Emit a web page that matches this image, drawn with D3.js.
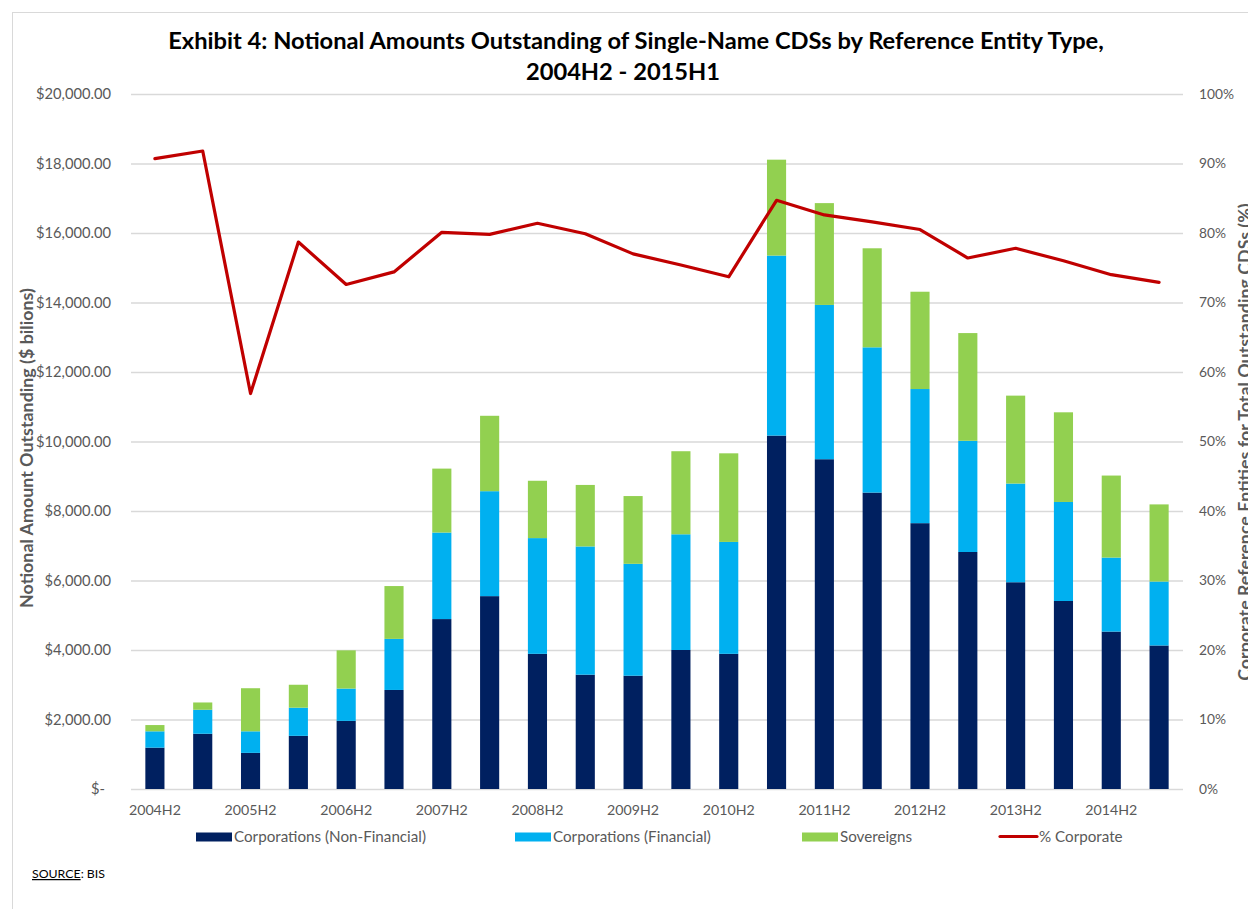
<!DOCTYPE html>
<html><head><meta charset="utf-8">
<script src="https://cdn.jsdelivr.net/npm/d3@7"></script>
<style>body{margin:0;background:#fff;} svg{display:block;}</style>
</head><body><svg id="chart" width="1248" height="909"></svg>
<script>
const categories = ["2004H2","2005H1","2005H2","2006H1","2006H2","2007H1","2007H2","2008H1","2008H2","2009H1","2009H2","2010H1","2010H2","2011H1","2011H2","2012H1","2012H2","2013H1","2013H2","2014H1","2014H2","2015H1"];
const nonFinancial = [1190,1590,1040,1530,1960,2850,4890,5550,3890,3290,3260,4000,3890,10170,9490,8530,7650,6820,5950,5410,4530,4130];
const financial    = [470,690,620,810,930,1470,2490,3020,3330,3690,3220,3330,3220,5180,4440,4180,3860,3200,2840,2850,2130,1840];
const sovereigns   = [180,210,1240,660,1100,1520,1840,2170,1650,1770,1950,2390,2550,2760,2930,2850,2800,3100,2530,2580,2360,2220];
const pctCorporate = [90.7,91.8,56.9,78.7,72.6,74.4,80.1,79.8,81.4,79.9,77.0,75.4,73.7,84.7,82.6,81.6,80.5,76.4,77.8,76.0,74.0,72.9];
const leftTicks = [0,2000,4000,6000,8000,10000,12000,14000,16000,18000,20000];
const rightTicks = [0,0.1,0.2,0.3,0.4,0.5,0.6,0.7,0.8,0.9,1.0];
const xLabelCategories = ["2004H2","2005H2","2006H2","2007H2","2008H2","2009H2","2010H2","2011H2","2012H2","2013H2","2014H2"];
const seriesNames = ["Corporations (Non-Financial)","Corporations (Financial)","Sovereigns","% Corporate"];
const colors = ["#002060","#00B0F0","#92D050","#C00000"];

const FONT = 'Lato, "Open Sans", sans-serif';
const GRAY = "#595959";
const svg = d3.select("#chart").attr("font-family", FONT);
const L = 131, R = 1183, T = 94, B = 789;

function fit(text, weight, target){
  const t = svg.append("text").attr("font-family",FONT).attr("font-weight",weight).attr("font-size",100).text(text);
  const w = t.node().getComputedTextLength(); t.remove();
  return 100*target/w;
}

// outer border
svg.append("rect").attr("x",12.5).attr("y",12.5).attr("width",1400).attr("height",1000)
  .attr("fill","none").attr("stroke","#d9d9d9").attr("stroke-width",1);

const x = d3.scaleBand().domain(categories).range([L,R]).paddingInner(0.6).paddingOuter(0.3);
const y = d3.scaleLinear().domain([0,20000]).range([B,T]);
const y2 = d3.scaleLinear().domain([0,1]).range([B,T]);

// gridlines
const grid = svg.append("g").attr("transform",`translate(${L},0)`)
  .call(d3.axisLeft(y).tickValues(leftTicks).tickSize(-(R-L)).tickFormat(""));
grid.select(".domain").remove();
grid.selectAll("line").attr("stroke","#d9d9d9").attr("stroke-width",1.3);

// stacked bars
const rows = categories.map((c,i)=>({cat:c, nonFin:nonFinancial[i], fin:financial[i], sov:sovereigns[i]}));
const stack = d3.stack().keys(["nonFin","fin","sov"])(rows);
svg.append("g").selectAll("g").data(stack).join("g").attr("fill",(d,i)=>colors[i])
  .selectAll("rect").data(d=>d).join("rect")
  .attr("x",d=>x(d.data.cat)).attr("width",x.bandwidth())
  .attr("y",d=>y(d[1])).attr("height",d=>y(d[0])-y(d[1]));

// line
const line = d3.line().x((d,i)=>x(categories[i])+x.bandwidth()/2).y(d=>y2(d/100));
svg.append("path").datum(pctCorporate).attr("d",line).attr("fill","none")
  .attr("stroke",colors[3]).attr("stroke-width",3.2).attr("stroke-linejoin","round").attr("stroke-linecap","round");

// left axis labels
const yFs = fit("$20,000.00",400,75);
const la = svg.append("g").attr("transform",`translate(${L},0)`)
  .call(d3.axisLeft(y).tickValues(leftTicks).tickSize(0).tickPadding(20)
    .tickFormat(d=>d===0?"$-":d3.format("$,.2f")(d)));
la.select(".domain").remove();
la.selectAll("text").attr("font-family",FONT).attr("font-size",yFs).attr("fill",GRAY)
  .attr("dx",d=>d===0?-6:0);

// right axis labels
const rFs = fit("100%",400,35);
const ra = svg.append("g").attr("transform",`translate(${R},0)`)
  .call(d3.axisRight(y2).tickValues(rightTicks).tickSize(0).tickPadding(16).tickFormat(d3.format(".0%")));
ra.select(".domain").remove();
ra.selectAll("text").attr("font-family",FONT).attr("font-size",rFs).attr("fill",GRAY);

// x axis labels
const xFs = fit("2004H2",400,52);
const xa = svg.append("g").attr("transform",`translate(0,${B})`)
  .call(d3.axisBottom(x).tickValues(xLabelCategories).tickSize(0).tickPadding(26-0.71*xFs));
xa.select(".domain").remove();
xa.selectAll("text").attr("font-family",FONT).attr("font-size",xFs).attr("fill",GRAY);

// title
const tFs = fit("Exhibit 4: Notional Amounts Outstanding of Single-Name CDSs by Reference Entity Type,",700,936);
svg.append("text").attr("x",636).attr("y",48.5).attr("text-anchor","middle").attr("font-weight",700)
  .attr("font-size",tFs).attr("fill","#000")
  .text("Exhibit 4: Notional Amounts Outstanding of Single-Name CDSs by Reference Entity Type,");
svg.append("text").attr("x",623).attr("y",79.5).attr("text-anchor","middle").attr("font-weight",700)
  .attr("font-size",tFs).attr("fill","#000").text("2004H2 - 2015H1");

// axis titles
const aFs = fit("Notional Amount Outstanding ($ bilions)",700,320);
svg.append("text").attr("transform","translate(33,448) rotate(-90)").attr("text-anchor","middle")
  .attr("font-weight",700).attr("font-size",aFs).attr("fill",GRAY)
  .text("Notional Amount Outstanding ($ bilions)");
svg.append("text").attr("transform",`translate(${1238+0.72*aFs},442) rotate(-90)`).attr("text-anchor","middle")
  .attr("font-weight",700).attr("font-size",aFs).attr("fill",GRAY)
  .text("Corporate Reference Entities for Total Outstanding CDSs (%)");

// legend
const lgFs = fit("Corporations (Non-Financial)",400,192);
const legendX = [196,515,802,1000];
const lg = svg.append("g");
seriesNames.forEach((name,i)=>{
  if(i<3){
    lg.append("rect").attr("x",legendX[i]).attr("y",832.5).attr("width",36).attr("height",9).attr("fill",colors[i]);
  } else {
    lg.append("line").attr("x1",legendX[i]).attr("x2",legendX[i]+37).attr("y1",836.5).attr("y2",836.5)
      .attr("stroke",colors[i]).attr("stroke-width",3.2).attr("stroke-linecap","round");
  }
  lg.append("text").attr("x",legendX[i]+(i<3?38:39)).attr("y",841.5).attr("font-size",lgFs).attr("fill",GRAY).text(name);
});

// source
const sFs = fit("SOURCE: BIS",400,73);
const src = svg.append("text").attr("x",32).attr("y",878).attr("font-size",sFs).attr("fill","#000");
src.append("tspan").attr("text-decoration","underline").text("SOURCE");
src.append("tspan").text(": BIS");
</script>
</body></html>
